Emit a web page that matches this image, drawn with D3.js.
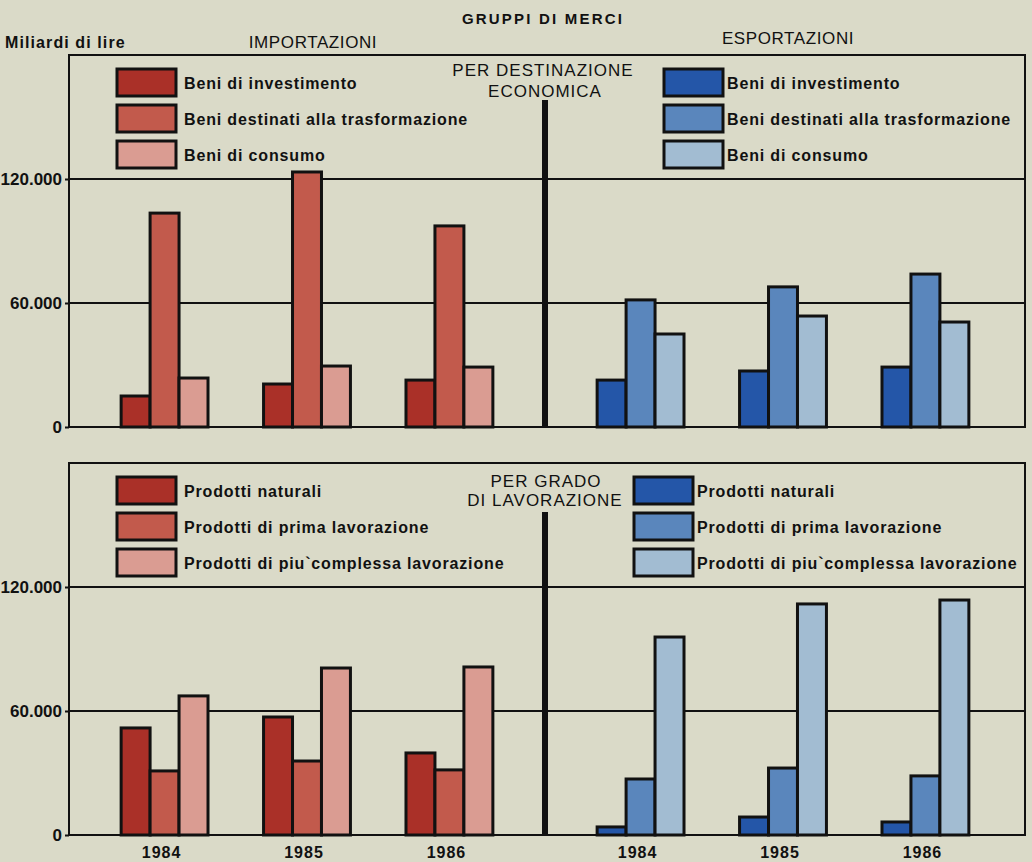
<!DOCTYPE html>
<html>
<head>
<meta charset="utf-8">
<script src="https://cdn.jsdelivr.net/npm/d3@7"></script>
<style>
  body { margin: 0; background: #dadac8; }
  svg { display: block; font-family: "Liberation Sans", Arial, sans-serif; }
  .lbl { font-weight: bold; font-size: 16px; fill: #111; letter-spacing: 0.85px; }
  .ttl { font-size: 17px; fill: #111; letter-spacing: 1px; }
</style>
</head>
<body>
<div id="chart"></div>
<script>
// anni e serie
const years = ['1984', '1985', '1986']
const destSeries = ['Beni di investimento', 'Beni destinati alla trasformazione', 'Beni di consumo']
const gradoSeries = ['Prodotti naturali', 'Prodotti di prima lavorazione', 'Prodotti di piu`complessa lavorazione']
const yTicks = [0, 60000, 120000]

// miliardi di lire, per anno: [serie1, serie2, serie3]
const impDest = [[15000, 103500, 23700], [20800, 123400, 29500], [22700, 97300, 29000]]
const espDest = [[22700, 61500, 45000], [27100, 67800, 53700], [29000, 74000, 50800]]
const impGrado = [[51800, 31000, 67300], [57100, 35800, 80800], [39700, 31500, 81300]]
const espGrado = [[3900, 27100, 95800], [8700, 32400, 111800], [6300, 28600, 113700]]

const redColors = ['#aa3028', '#c25a4c', '#da9c92']
const blueColors = ['#2456a8', '#5a86bc', '#a2bcd2']

const width = 1032
const height = 862
const left = 69, right = 1025, mid = 545

const svg = d3.select('#chart').append('svg')
    .attr('width', width)
    .attr('height', height)

svg.append('rect').attr('width', width).attr('height', height).attr('fill', '#dadac8')

// testi in alto
svg.append('text').attr('class', 'lbl').attr('x', 543).attr('y', 24)
    .attr('text-anchor', 'middle').style('font-size', '15px').style('letter-spacing', '2.2px')
    .text('GRUPPI DI MERCI')
svg.append('text').attr('class', 'lbl').attr('x', 5).attr('y', 48)
    .style('letter-spacing', '1.1px').text('Miliardi di lire')
svg.append('text').attr('class', 'ttl').attr('x', 313).attr('y', 48)
    .attr('text-anchor', 'middle').style('letter-spacing', '0.6px').text('IMPORTAZIONI')
svg.append('text').attr('class', 'ttl').attr('x', 788).attr('y', 44)
    .attr('text-anchor', 'middle').style('letter-spacing', '0.6px').text('ESPORTAZIONI')

const x0 = d3.scaleBand().domain(years).range([0, mid - left]).paddingInner(0.39).paddingOuter(0.366)
const x1 = d3.scaleBand().domain([0, 1, 2]).range([0, x0.bandwidth()])

const drawPanel = (top, bottom, series, imp, esp, title, divTop, legR, yearLabels) => {
    const y = d3.scaleLinear().domain([0, 180000]).range([bottom, top])
    const g = svg.append('g')

    // griglia
    g.selectAll('line.grid')
        .data(yTicks.filter(d => d > 0))
        .enter().append('line')
        .attr('x1', left).attr('x2', right)
        .attr('y1', d => y(d)).attr('y2', d => y(d))
        .attr('stroke', '#111').attr('stroke-width', 2)

    // asse y
    const axis = g.append('g')
        .attr('transform', `translate(${left},0)`)
        .call(d3.axisLeft(y).tickValues(yTicks).tickSize(4).tickPadding(3)
            .tickFormat(d => d3.format(',')(d).replace(/,/g, '.')))
    axis.select('.domain').remove()
    axis.selectAll('text').attr('font-size', 17).attr('font-weight', 'bold')
        .attr('fill', '#111').attr('font-family', '"Liberation Sans", Arial, sans-serif')
    axis.selectAll('line').attr('stroke', '#111').attr('stroke-width', 2)

    // barre
    const halves = [[left, imp, redColors], [mid, esp, blueColors]]
    halves.forEach(([offset, values, colors]) => {
        const grp = g.selectAll(null)
            .data(years.map((yr, i) => ({ yr, vals: values[i] })))
            .enter().append('g')
            .attr('transform', d => `translate(${offset + x0(d.yr)},0)`)
        grp.selectAll('rect')
            .data(d => d.vals.map((v, k) => ({ v, k })))
            .enter().append('rect')
            .attr('x', d => x1(d.k))
            .attr('width', x1.bandwidth())
            .attr('y', d => y(d.v))
            .attr('height', d => bottom - y(d.v))
            .attr('fill', d => colors[d.k])
            .attr('stroke', '#111')
            .attr('stroke-width', 3)
        if (yearLabels) {
            g.selectAll(null).data(years).enter().append('text')
                .attr('class', 'lbl')
                .attr('x', d => offset + x0(d) + x0.bandwidth() / 2 - 3)
                .attr('y', bottom + 23)
                .attr('text-anchor', 'middle')
                .style('letter-spacing', '1px')
                .text(d => d)
        }
    })

    // riquadro
    g.append('rect')
        .attr('x', left).attr('y', top)
        .attr('width', right - left).attr('height', bottom - top)
        .attr('fill', 'none').attr('stroke', '#111').attr('stroke-width', 2)

    // divisore
    g.append('line')
        .attr('x1', mid).attr('x2', mid)
        .attr('y1', divTop).attr('y2', bottom)
        .attr('stroke', '#111').attr('stroke-width', 6)

    // titolo centrale
    title.forEach(([t, tx, ty]) => g.append('text').attr('class', 'ttl')
        .attr('x', tx).attr('y', top + ty)
        .attr('text-anchor', 'middle').text(t))

    // legende
    const legends = [[117, 184, redColors], [legR, legR + 63, blueColors]]
    legends.forEach(([sx, tx, colors]) => {
        const lg = g.selectAll(null).data(series).enter().append('g')
            .attr('transform', (d, i) => `translate(0,${top + 14 + i * 36})`)
        lg.append('rect')
            .attr('x', sx).attr('y', 0)
            .attr('width', 59).attr('height', 27)
            .attr('fill', (d, i) => colors[i])
            .attr('stroke', '#111').attr('stroke-width', 3)
        lg.append('text').attr('class', 'lbl')
            .attr('x', tx).attr('y', 20)
            .text(d => d)
    })
}

drawPanel(55, 427, destSeries, impDest, espDest,
    [['PER DESTINAZIONE', 543, 21], ['ECONOMICA', 545, 42]], 100, 664, false)
drawPanel(463, 835, gradoSeries, impGrado, espGrado,
    [['PER GRADO', 546, 24], ['DI LAVORAZIONE', 545, 43]], 512, 634, true)
</script>
</body>
</html>
